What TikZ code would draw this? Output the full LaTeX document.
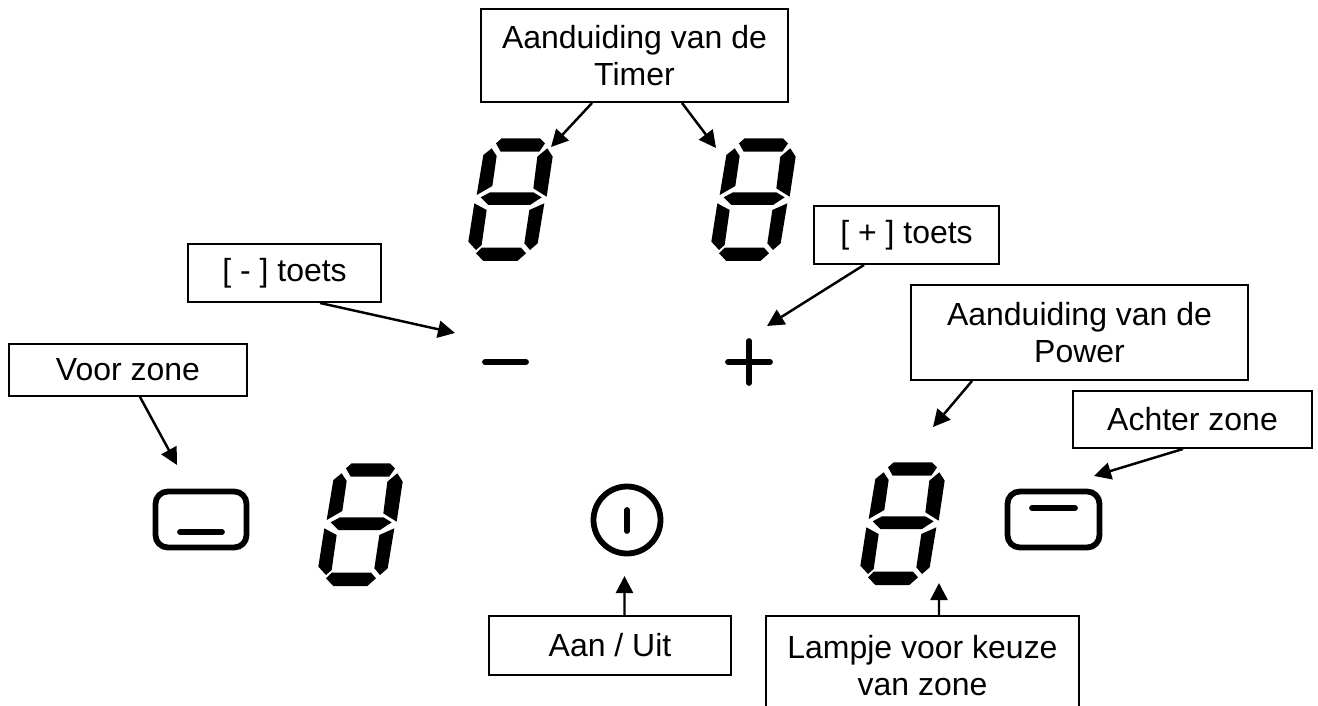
\documentclass[tikz,border=0pt]{standalone}
\usepackage{fontspec}
\usepackage{xcolor}
\setmainfont{Liberation Sans}
\usetikzlibrary{arrows.meta}
\tikzset{
    labelbox/.style={draw,line width=1.1pt,align=center,inner sep=0pt,font=\fontsize{18.2}{21}\selectfont},
    pointer/.style={-{Triangle[length=0.34cm,width=0.34cm]},line width=1.4pt},
    icon/.style={line width=3.3pt,line cap=round},
    digit/.pic={
        \begin{scope}[scale=1/3]
        \fill (168,130) -- (185,115) -- (300,115) -- (315,130) -- (298,155) -- (182,155) -- cycle;
        \fill (130,165) -- (155,145) -- (170,168) -- (157,258) -- (110,285) -- cycle;
        \fill (322,145) -- (338,170) -- (320,290) -- (280,265) -- (292,170) -- cycle;
        \fill (122,292) -- (150,277) -- (280,277) -- (305,292) -- (270,315) -- (145,315) -- cycle;
        \fill (103,310) -- (140,330) -- (125,435) -- (108,450) -- (85,425) -- cycle;
        \fill (313,310) -- (293,430) -- (270,450) -- (253,430) -- (268,330) -- cycle;
        \fill (108,460) -- (125,443) -- (243,443) -- (258,460) -- (232,483) -- (130,483) -- cycle;
        \end{scope}
    }
}
\begin{document}
\begin{tikzpicture}[x=0.02cm,y=-0.02cm]
    \useasboundingbox (0,0) rectangle (1318,706);
    % displays
    \pic at (440,100) {digit};
    \pic at (683,100) {digit};
    \pic at (290,425) {digit};
    \pic at (832,424) {digit};
    % keys
    \draw[icon] (485,362) -- (526,362);
    \draw[icon] (728,362) -- (770,362);
    \draw[icon] (749,341) -- (749,383);
    \draw[icon] (627,510) -- (627,531);
    \draw[icon] (627,520) circle (33.5);
    \draw[icon,rounded corners=7pt] (155.5,491.5) rectangle (246.5,547.5);
    \draw[icon] (180,532) -- (222,532);
    \draw[icon,rounded corners=7pt] (1007.5,491.5) rectangle (1099.5,547.5);
    \draw[icon] (1032,508) -- (1075,508);
    % labels
    \node[labelbox,minimum width=6.14cm,minimum height=1.86cm] (timerbox) at (634.5,55.5) {Aanduiding van de\\Timer};
    \node[labelbox,minimum width=3.86cm,minimum height=1.16cm] (minbox) at (284.5,273) {[ - ] toets};
    \node[labelbox,minimum width=3.7cm,minimum height=1.16cm] (plusbox) at (906.5,235) {[ + ] toets};
    \node[labelbox,minimum width=4.76cm,minimum height=1.04cm] (voorbox) at (128,370) {Voor zone};
    \node[labelbox,minimum width=6.74cm,minimum height=1.9cm] (powerbox) at (1079.5,332.5) {Aanduiding van de\\Power};
    \node[labelbox,minimum width=4.78cm,minimum height=1.14cm] (achterbox) at (1192.5,419.5) {Achter zone};
    \node[labelbox,minimum width=4.84cm,minimum height=1.18cm] (aanbox) at (610,645.5) {Aan / Uit};
    \node[labelbox,minimum width=6.26cm,minimum height=2cm] (lampbox) at (922.5,666) {Lampje voor keuze\\van zone};
    % free ends
    \coordinate (timerl) at (551,147);
    \coordinate (timerr) at (716,148);
    \coordinate (mintip) at (455,333);
    \coordinate (plustip) at (767,326);
    \coordinate (voortip) at (177,465);
    \coordinate (powertip) at (933,427);
    \coordinate (achtertip) at (1094,476);
    \coordinate (aantip) at (624.5,576);
    \coordinate (lamptip) at (939,583);
    \draw[pointer] ([xshift=-0.85cm]timerbox.south) -- (timerl);
    \draw[pointer] ([xshift=0.95cm]timerbox.south) -- (timerr);
    \draw[pointer] ([xshift=0.71cm]minbox.south) -- (mintip);
    \draw[pointer] ([xshift=-0.85cm]plusbox.south) -- (plustip);
    \draw[pointer] ([xshift=0.24cm]voorbox.south) -- (voortip);
    \draw[pointer] ([xshift=-2.15cm]powerbox.south) -- (powertip);
    \draw[pointer] ([xshift=-0.19cm]achterbox.south) -- (achtertip);
    \draw[pointer] ([xshift=0.29cm]aanbox.north) -- (aantip);
    \draw[pointer] ([xshift=0.33cm]lampbox.north) -- (lamptip);
\end{tikzpicture}
\end{document}
